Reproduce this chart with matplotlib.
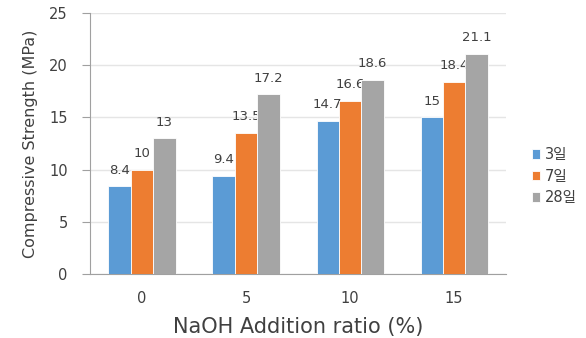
import matplotlib.pyplot as plt
import numpy as np

plt.rcParams['font.family'] = ['DejaVu Sans', 'Noto Sans CJK KR']

ratios = ["0", "5", "10", "15"]
series_names = ["3일", "7일", "28일"]
day3 = [8.4, 9.4, 14.7, 15]
day7 = [10, 13.5, 16.6, 18.4]
day28 = [13, 17.2, 18.6, 21.1]
colors = ["#5B9BD5", "#ED7D31", "#A5A5A5"]
text_color = "#404040"

fig = plt.figure(figsize=(5.86, 3.38), dpi=100)
ax = fig.add_axes([0.1536, 0.1893, 0.71, 0.772])

x = np.arange(len(ratios))
width = 0.215
for i, (vals, name) in enumerate(zip([day3, day7, day28], series_names)):
    bars = ax.bar(x + (i - 1) * width, vals, width, color=colors[i], label=name,
                  edgecolor="white", linewidth=0.6, zorder=3)
    ax.bar_label(bars, labels=[f"{v:g}" for v in vals], padding=7,
                 fontsize=9.5, color=text_color)

ax.set_xlim(-0.5, len(ratios) - 0.5)
ax.set_ylim(0, 25)
ax.set_yticks(range(0, 26, 5))
ax.set_xticks(x)
ax.set_xticklabels(ratios)
ax.grid(axis="y", color="#E5E5E5", linewidth=1, zorder=0)
for side in ["top", "right"]:
    ax.spines[side].set_visible(False)
ax.spines["left"].set_color("#A0A0A0")
ax.spines["bottom"].set_color("#A0A0A0")
ax.tick_params(axis="x", length=0, pad=12, labelsize=10.5, colors=text_color)
ax.tick_params(axis="y", length=6, color="#A0A0A0", pad=10, labelsize=10.5, colors=text_color)
ax.set_xlabel("NaOH Addition ratio (%)", fontsize=15, color=text_color, labelpad=8)
ax.set_ylabel("Compressive Strength (MPa)", fontsize=11.5, color=text_color, labelpad=8)

ax.legend(loc="center left", bbox_to_anchor=(1.03, 0.375), frameon=False,
          handlelength=0.6, handleheight=0.6, handletextpad=0.3,
          labelspacing=0.45, fontsize=10.5, labelcolor=text_color)

fig.savefig("out.png", dpi=100)
